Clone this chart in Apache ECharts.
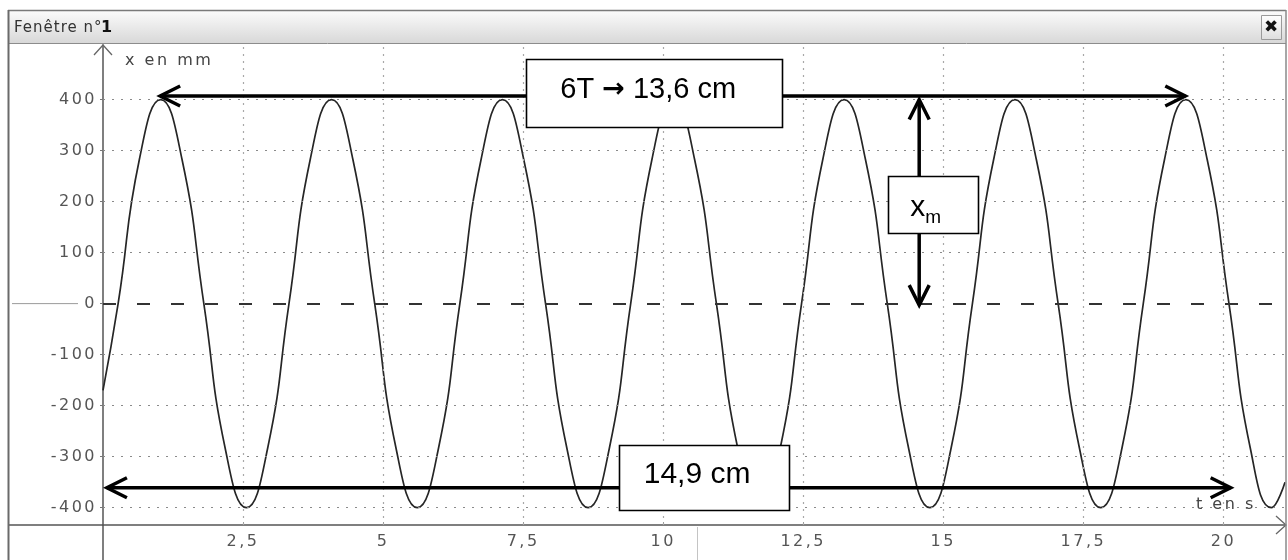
<!DOCTYPE html>
<html><head><meta charset="utf-8">
<script src="https://cdn.jsdelivr.net/npm/echarts@6/dist/echarts.min.js"></script>
<style>html,body{margin:0;padding:0;background:#fff}#c{width:1288px;height:560px}</style>
</head><body><div id="c"></div>
<script>
// wide, spaced look of the original screen font
(function(){
  var P = CanvasRenderingContext2D.prototype, f = P.fillText;
  P.fillText = function(t, x, y, m){
    var fnt = this.font || '', ls = '0px';
    var sz = parseFloat((fnt.match(/(\d+(\.\d+)?)px/) || [0, 0])[1]);
    if (fnt.indexOf('DejaVu') >= 0 && sz < 20) ls = '2.5px';
    if (fnt.indexOf('Verdana') >= 0) ls = '1px';
    try { this.letterSpacing = ls; } catch(e) {}
    return m === undefined ? f.call(this, t, x, y) : f.call(this, t, x, y, m);
  };
})();

// ---- data ----
const times = [0, 0.27, 0.65, 1.03, 1.41, 1.80, 2.18, 2.56, 2.94,
  3.32, 3.70, 4.08, 4.46, 4.85, 5.23, 5.61, 5.99,
  6.37, 6.75, 7.13, 7.51, 7.90, 8.28, 8.66, 9.04,
  9.42, 9.80, 10.18, 10.56, 10.95, 11.33, 11.71, 12.09,
  12.47, 12.85, 13.23, 13.61, 14.00, 14.38, 14.76, 15.14,
  15.52, 15.90, 16.28, 16.66, 17.05, 17.43, 17.81, 18.19,
  18.57, 18.95, 19.33, 19.71, 20.10, 20.48, 20.86, 21.10];
const positions = [-170,
  0, 283, 400, 283, 0, -283, -400, -283,
  0, 283, 400, 283, 0, -283, -400, -283,
  0, 283, 400, 283, 0, -283, -400, -283,
  0, 283, 400, 283, 0, -283, -400, -283,
  0, 283, 400, 283, 0, -283, -400, -283,
  0, 283, 400, 283, 0, -283, -400, -283,
  0, 283, 400, 283, 0, -283, -400,
  -350];
const yTicks = [-400, -300, -200, -100, 0, 100, 200, 300, 400];
const xTicks = [2.5, 5, 7.5, 10, 12.5, 15, 17.5, 20];
const hGrid = [-400, -300, -200, -100, 100, 200, 300, 400];
const vGrid = [2.5, 5, 7.5, 10, 12.5, 15, 17.5, 20];

const windowTitle = 'Fenêtre n°';
const windowNumber = '1';
const yName = 'x en mm';
const xName = 't en s';

// annotations (data coordinates)
const periodArrow = [[1.02, 407], [19.32, 407]];
const amplitudeArrow = [[14.57, 400], [14.57, -3]];
const durationArrow = [[0.07, -361], [20.13, -361]];
const periodLabelA = '6T ';
const periodLabelArrow = '→';
const periodLabelB = ' 13,6 cm';
const durationLabel = '14,9 cm';
const amplitudeMain = 'x';
const amplitudeSub = 'm';
const periodBox = [9.84, 413];
const amplitudeBox = [14.82, 194];
const durationBox = [10.73, -341];

const chart = echarts.init(document.getElementById('c'), null, {renderer: 'canvas'});
const tickFont = {fontFamily: 'DejaVu Sans', fontSize: 16, color: '#555'};

const hLine = {type: [2, 7], color: '#8a8a8a', width: 1.2};
const vLine = {type: [2, 5], color: '#a8a8a8', width: 1.2};

chart.setOption({
  animation: false,
  backgroundColor: '#fff',
  grid: {left: 103, top: 45, right: 3, bottom: 35},
  xAxis: {
    type: 'value', min: 0, max: 21.1,
    axisLine: {show: true, onZero: false, lineStyle: {color: '#555', width: 1.5}},
    axisTick: {show: true, customValues: xTicks, length: 3, inside: true, lineStyle: {color: '#999'}},
    axisLabel: Object.assign({customValues: xTicks, margin: 9,
      formatter: v => String(v).replace('.', ',')}, tickFont),
    splitLine: {show: false}
  },
  yAxis: {
    type: 'value', min: -434, max: 507,
    axisLine: {show: true, onZero: false, lineStyle: {color: '#555', width: 1.5}},
    axisTick: {show: true, customValues: yTicks, length: 3, lineStyle: {color: '#777'}},
    axisLabel: Object.assign({customValues: yTicks, margin: 6}, tickFont),
    splitLine: {show: false}
  },
  series: [{
    type: 'line',
    data: times.map((t, i) => [t, positions[i]]),
    showSymbol: false,
    smooth: 0.5,
    lineStyle: {color: '#262626', width: 1.7},
    emphasis: {disabled: true},
    markLine: {
      silent: true, symbol: ['none', 'none'], label: {show: false}, animation: false,
      emphasis: {disabled: true},
      data: hGrid.map(v => ({yAxis: v, lineStyle: hLine}))
        .concat(vGrid.map(v => ({xAxis: v, lineStyle: vLine})))
        .concat([{yAxis: 0, lineStyle: {type: [13, 21], color: '#333', width: 2}}])
    }
  }]
});

function px(p) { return chart.convertToPixel({gridIndex: 0}, p); }

function arrowEls(a, b) {
  const A = px(a), B = px(b);
  const els = [];
  const st = {stroke: '#000', lineWidth: 3.5, fill: null, lineJoin: 'miter', lineCap: 'butt'};
  els.push({type: 'line', z: 100, shape: {x1: A[0], y1: A[1], x2: B[0], y2: B[1]}, style: Object.assign({}, st)});
  [[A, B], [B, A]].forEach(([tip, other]) => {
    let dx = tip[0] - other[0], dy = tip[1] - other[1];
    const L = Math.hypot(dx, dy); dx /= L; dy /= L;
    const nx = -dy, ny = dx;
    els.push({type: 'polyline', z: 100, shape: {points: [
      [tip[0] - 20 * dx + 10 * nx, tip[1] - 20 * dy + 10 * ny],
      [tip[0], tip[1]],
      [tip[0] - 20 * dx - 10 * nx, tip[1] - 20 * dy - 10 * ny]]},
      style: Object.assign({}, st)});
  });
  return els;
}

function boxEl(center, w, h) {
  const c = px(center);
  return {type: 'rect', z: 101, shape: {x: Math.round(c[0] - w / 2) + 0.5, y: Math.round(c[1] - h / 2) + 0.5, width: w, height: h},
    style: {fill: '#fff', stroke: '#000', lineWidth: 1.6}};
}

const o = px([0, 0]);
const x0 = o[0], y0 = o[1];
const bottomY = px([0, -434])[1];
const topY = px([0, 507])[1];
const rightX = px([21.1, 0])[0];

const g = [];
// window chrome
g.push({type: 'rect', z: 50, shape: {x: 9, y: 11, width: 1276, height: 32},
  style: {fill: new echarts.graphic.LinearGradient(0, 0, 0, 1, [{offset: 0, color: '#fbfbfb'}, {offset: 1, color: '#d8d8d8'}]), stroke: null}});
g.push({type: 'line', z: 51, shape: {x1: 8, y1: 43.5, x2: 1286, y2: 43.5}, style: {stroke: '#8c8c8c', lineWidth: 1}});
g.push({type: 'line', z: 51, shape: {x1: 8, y1: 10.5, x2: 1286, y2: 10.5}, style: {stroke: '#7a7a7a', lineWidth: 1.5}});
g.push({type: 'line', z: 51, shape: {x1: 8.5, y1: 10, x2: 8.5, y2: 560}, style: {stroke: '#6a6a6a', lineWidth: 2}});
g.push({type: 'line', z: 51, shape: {x1: 1286, y1: 10, x2: 1286, y2: 560}, style: {stroke: '#8a8a8a', lineWidth: 1.5}});
g.push({type: 'text', z: 52, style: {text: windowTitle, x: 14, y: 28, font: '15px Verdana, "DejaVu Sans"', fill: '#333', verticalAlign: 'middle', align: 'left'}});
g.push({type: 'text', z: 52, style: {text: windowNumber, x: 101, y: 28, font: 'bold 16px Verdana, "DejaVu Sans"', fill: '#111', verticalAlign: 'middle', align: 'left'}});
g.push({type: 'rect', z: 52, shape: {x: 1261.5, y: 15.5, width: 20, height: 24},
  style: {fill: new echarts.graphic.LinearGradient(0, 0, 0, 1, [{offset: 0, color: '#ffffff'}, {offset: 1, color: '#dddddd'}]), stroke: '#9a9a9a', lineWidth: 1}});
g.push({type: 'text', z: 53, style: {text: '✖', x: 1271.5, y: 28, font: 'bold 17px Verdana, "DejaVu Sans"', fill: '#111', verticalAlign: 'middle', align: 'center'}});

// axis extensions / arrows
g.push({type: 'line', z: 40, shape: {x1: x0, y1: bottomY, x2: x0, y2: 560}, style: {stroke: '#555', lineWidth: 1.5}});
g.push({type: 'line', z: 40, shape: {x1: 8, y1: bottomY, x2: x0, y2: bottomY}, style: {stroke: '#555', lineWidth: 1.5}});
g.push({type: 'line', z: 40, shape: {x1: 12, y1: y0, x2: 78, y2: y0}, style: {stroke: '#9a9a9a', lineWidth: 1}});
g.push({type: 'polyline', z: 40, shape: {points: [[x0 - 9, topY + 10], [x0, topY], [x0 + 9, topY + 10]]}, style: {stroke: '#666', lineWidth: 1.3, fill: null}});
g.push({type: 'polyline', z: 40, shape: {points: [[rightX - 9, bottomY - 9], [rightX + 1, bottomY], [rightX - 9, bottomY + 9]]}, style: {stroke: '#666', lineWidth: 1.3, fill: null}});
g.push({type: 'line', z: 40, shape: {x1: 697.5, y1: bottomY + 2, x2: 697.5, y2: 560}, style: {stroke: '#c4c4c4', lineWidth: 1}});
g.push({type: 'text', z: 40, style: {text: yName, x: x0 + 22, y: topY + 16, font: '16px "DejaVu Sans"', fill: '#444', verticalAlign: 'middle', align: 'left'}});
g.push({type: 'text', z: 40, style: {text: xName, x: 1196, y: bottomY - 20, font: '16px "DejaVu Sans"', fill: '#444', verticalAlign: 'middle', align: 'left'}});

// annotations
Array.prototype.push.apply(g, arrowEls(periodArrow[0], periodArrow[1]));
Array.prototype.push.apply(g, arrowEls(amplitudeArrow[0], amplitudeArrow[1]));
Array.prototype.push.apply(g, arrowEls(durationArrow[0], durationArrow[1]));

g.push(boxEl(periodBox, 256, 68));
const pb = px(periodBox);
g.push({type: 'text', z: 102, style: {
  text: '{a|' + periodLabelA + '}{b|' + periodLabelArrow + '}{a|' + periodLabelB + '}',
  x: pb[0] - 6, y: pb[1] - 3, align: 'center', verticalAlign: 'middle',
  rich: {
    a: {font: '29px "Liberation Sans", Arial', fill: '#000'},
    b: {font: 'bold 27px "DejaVu Sans"', fill: '#000'}
  }}});

g.push(boxEl(durationBox, 170, 65));
const db = px(durationBox);
g.push({type: 'text', z: 102, style: {text: durationLabel, x: db[0] - 7, y: db[1] - 3, font: '30px "Liberation Sans", Arial', fill: '#000', align: 'center', verticalAlign: 'middle'}});

g.push(boxEl(amplitudeBox, 90, 57));
const ab = px(amplitudeBox);
g.push({type: 'text', z: 102, style: {text: amplitudeMain, x: ab[0] - 8, y: ab[1] + 3, font: '30px "Liberation Sans", Arial', fill: '#000', align: 'right', verticalAlign: 'middle'}});
g.push({type: 'text', z: 102, style: {text: amplitudeSub, x: ab[0] - 8, y: ab[1] + 13, font: '19px "Liberation Sans", Arial', fill: '#000', align: 'left', verticalAlign: 'middle'}});

chart.setOption({graphic: {elements: g}});
</script>
</body></html>
